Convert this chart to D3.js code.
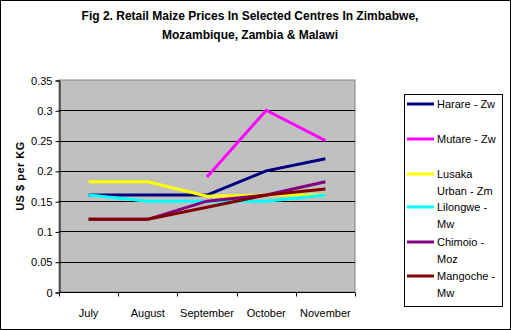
<!DOCTYPE html>
<html>
<head>
<meta charset="utf-8">
<script src="https://cdn.jsdelivr.net/npm/d3@7"></script>
<style>
  html, body { margin: 0; padding: 0; background: #fff; }
  svg { display: block; font-family: Arial, "Liberation Sans", sans-serif; }
</style>
</head>
<body>
<svg id="chart" width="511" height="330"></svg>
<script>
// Months along the x axis
const months = ["July", "August", "September", "October", "November"];

// Retail maize price per kg (US $) by centre
const harare   = [0.16, 0.16, 0.16, 0.20, 0.22];
const mutare   = [null, null, 0.19, 0.30, 0.25];
const lusaka   = [0.182, 0.182, 0.158, 0.16, 0.16];
const lilongwe = [0.16, 0.15, 0.15, 0.15, 0.16];
const chimoio  = [0.12, 0.12, 0.15, 0.16, 0.182];
const mangoche = [0.12, 0.12, 0.14, 0.16, 0.17];

const seriesNames  = ["Harare - Zw", "Mutare - Zw", "Lusaka Urban - Zm", "Lilongwe - Mw", "Chimoio - Moz", "Mangoche - Mw"];
const legendLines  = [["Harare - Zw"], ["Mutare - Zw"], ["Lusaka", "Urban - Zm"], ["Lilongwe -", "Mw"], ["Chimoio -", "Moz"], ["Mangoche -", "Mw"]];
const seriesColors = ["#000080", "#FF00FF", "#FFFF00", "#00FFFF", "#800080", "#800000"];
const seriesValues = [harare, mutare, lusaka, lilongwe, chimoio, mangoche];

const yTicks = [0, 0.05, 0.1, 0.15, 0.2, 0.25, 0.3, 0.35];
const yTickLabels = ["0", "0.05", "0.1", "0.15", "0.2", "0.25", "0.3", "0.35"];

const svg = d3.select("#chart");
const W = 511, H = 330;

// outer frame
svg.append("rect").attr("x", 0.5).attr("y", 0.5).attr("width", W - 1).attr("height", H - 1)
  .attr("fill", "#fff").attr("stroke", "#000").attr("stroke-width", 1);

// title
const title = svg.append("text").attr("text-anchor", "middle")
  .attr("font-size", 12).attr("font-weight", "bold").attr("fill", "#000");
title.append("tspan").attr("x", 250).attr("y", 20).text("Fig 2. Retail Maize Prices In Selected Centres In Zimbabwe,");
title.append("tspan").attr("x", 250).attr("y", 39).text("Mozambique, Zambia & Malawi");

// plot area
const plot = { left: 59, top: 80, right: 355, bottom: 292 };
const x = d3.scaleBand().domain(months).range([plot.left, plot.right]).padding(0);
const y = d3.scaleLinear().domain([0, 0.35]).range([plot.bottom, plot.top]);

svg.append("rect").attr("x", plot.left).attr("y", plot.top)
  .attr("width", plot.right - plot.left).attr("height", plot.bottom - plot.top)
  .attr("fill", "#C0C0C0").attr("stroke", "#808080").attr("stroke-width", 1);

// gridlines
svg.append("g").selectAll("line").data(yTicks.filter(v => v > 0 && v < 0.35)).join("line")
  .attr("x1", plot.left).attr("x2", plot.right)
  .attr("y1", d => Math.round(y(d)) + 0.5).attr("y2", d => Math.round(y(d)) + 0.5)
  .attr("stroke", "#000").attr("stroke-width", 1);

// y axis
const yAxis = d3.axisLeft(y).tickValues(yTicks).tickSize(4).tickPadding(3)
  .tickFormat((d, i) => yTickLabels[i]);
const gy = svg.append("g").attr("transform", `translate(${plot.left + 0.5},0.5)`).call(yAxis);
gy.select(".domain").attr("stroke", "#000");
gy.selectAll(".tick line").attr("stroke", "#000");
gy.selectAll("text").attr("font-size", 11).attr("fill", "#000")
  .attr("font-family", "Arial, 'Liberation Sans', sans-serif");

// x axis: ticks at category boundaries, labels centred in each band
const gx = svg.append("g").attr("transform", `translate(0,${plot.bottom + 0.5})`);
gx.append("line").attr("x1", plot.left).attr("x2", plot.right).attr("y1", 0).attr("y2", 0).attr("stroke", "#000");
const boundaries = months.map(m => x(m)).concat([x(months[months.length - 1]) + x.bandwidth()]);
gx.selectAll("line.tick").data(boundaries).join("line").attr("class", "tick")
  .attr("x1", d => Math.round(d) + 0.5).attr("x2", d => Math.round(d) + 0.5)
  .attr("y1", 0).attr("y2", 4).attr("stroke", "#000");
gx.selectAll("text").data(months).join("text")
  .attr("x", d => x(d) + x.bandwidth() / 2).attr("y", 24)
  .attr("text-anchor", "middle").attr("font-size", 11).attr("fill", "#000").text(d => d);

// y axis title
svg.append("text").attr("transform", `translate(24,${(plot.top + plot.bottom) / 2 - 10}) rotate(-90)`)
  .attr("text-anchor", "middle").attr("font-size", 11).attr("font-weight", "bold")
  .attr("letter-spacing", 0.5).text("US $ per KG");

// series lines
const line = d3.line()
  .defined(d => d.v !== null)
  .x(d => x(d.m) + x.bandwidth() / 2)
  .y(d => y(d.v));

seriesValues.forEach((vals, i) => {
  svg.append("path")
    .datum(months.map((m, j) => ({ m, v: vals[j] })))
    .attr("d", line)
    .attr("fill", "none")
    .attr("stroke", seriesColors[i])
    .attr("stroke-width", 3)
    .attr("stroke-linejoin", "miter");
});

// legend
const lg = svg.append("g");
lg.append("rect").attr("x", 404.5).attr("y", 94.5).attr("width", 98).attr("height", 212)
  .attr("fill", "#fff").attr("stroke", "#000").attr("stroke-width", 1);
const legendY = [104, 139, 174, 207, 242, 276];
seriesNames.forEach((name, i) => {
  const g = lg.append("g");
  g.append("line").attr("x1", 407).attr("x2", 434).attr("y1", legendY[i]).attr("y2", legendY[i])
    .attr("stroke", seriesColors[i]).attr("stroke-width", 3);
  legendLines[i].forEach((t, k) => {
    g.append("text").attr("x", 437).attr("y", legendY[i] + 4 + k * 17)
      .attr("font-size", 11).attr("fill", "#000").text(t);
  });
});
</script>
</body>
</html>
